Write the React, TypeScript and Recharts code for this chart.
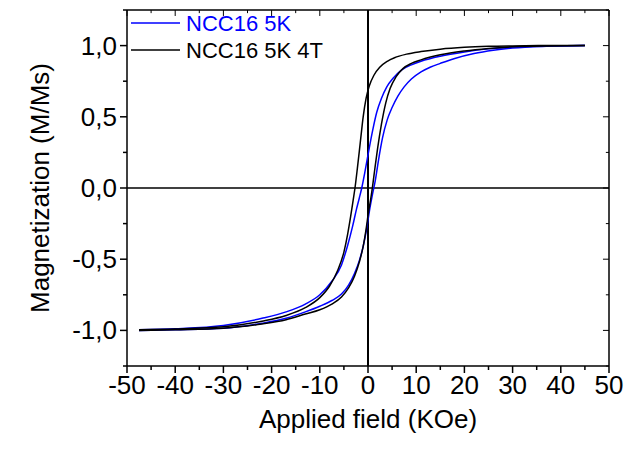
import { LineChart, Line, XAxis, YAxis, ReferenceLine, Legend } from "recharts"

const FONT = '"Liberation Sans", Arial, sans-serif'
const BLUE = "#0000ff"
const BLACK = "#000000"

const X_TICKS = [-50, -45, -40, -35, -30, -25, -20, -15, -10, -5, 0, 5, 10, 15, 20, 25, 30, 35, 40, 45, 50]
const Y_TICKS = [-1.25, -1, -0.75, -0.5, -0.25, 0, 0.25, 0.5, 0.75, 1, 1.25]

// NCC16 5K, field going down
const BLUE_DOWN_H = [-47.5, -40, -30, -22, -17, -13, -10, -7.5, -5.5, -4.2, -3.2, -2.4, -1.8, -1.3, -0.6, 0.2, 1.0, 1.8, 2.8, 3.9, 5.2, 7, 9, 11, 15, 20, 25, 30, 37, 45]
const BLUE_DOWN_M = [-0.995, -0.988, -0.965, -0.915, -0.87, -0.815, -0.75, -0.655, -0.54, -0.4, -0.27, -0.15, -0.07, 0.0, 0.12, 0.27, 0.41, 0.53, 0.63, 0.71, 0.77, 0.83, 0.865, 0.89, 0.925, 0.955, 0.977, 0.99, 0.998, 1.0]
// NCC16 5K, field going up
const BLUE_UP_H = [-47.5, -40, -30, -22, -17, -13, -10, -7.5, -5.5, -4, -2.8, -1.8, -1.0, -0.3, 0.3, 0.9, 1.5, 2.2, 3.0, 4.0, 5.0, 6.2, 7.5, 9, 11, 13, 15, 18, 22, 26, 30, 37, 45]
const BLUE_UP_M = [-1.0, -0.995, -0.985, -0.95, -0.915, -0.87, -0.83, -0.79, -0.745, -0.68, -0.6, -0.51, -0.41, -0.29, -0.16, -0.05, 0.05, 0.2, 0.35, 0.48, 0.565, 0.645, 0.71, 0.765, 0.815, 0.85, 0.875, 0.91, 0.945, 0.968, 0.983, 0.995, 1.0]

// NCC16 5K 4T, field going down
const BLACK_DOWN_H = [-47.5, -40, -30, -22, -17, -13, -10, -8, -6.3, -5, -4.2, -3.6, -3.1, -2.7, -2.2, -1.6, -1.0, -0.4, 0.3, 1.2, 2.5, 4, 5.5, 8, 11, 15, 20, 25, 30, 37, 45]
const BLACK_DOWN_M = [-0.995, -0.99, -0.975, -0.935, -0.895, -0.84, -0.77, -0.69, -0.58, -0.45, -0.32, -0.2, -0.09, 0.0, 0.14, 0.32, 0.5, 0.63, 0.72, 0.79, 0.85, 0.89, 0.915, 0.94, 0.958, 0.975, 0.988, 0.995, 0.998, 1.0, 1.0]
// NCC16 5K 4T, field going up
const BLACK_UP_H = [-47.5, -40, -30, -22, -17, -13, -10, -7.5, -5.5, -4, -2.8, -1.8, -1.0, -0.4, 0.1, 0.5, 0.9, 1.4, 2.0, 2.8, 3.7, 4.6, 5.8, 7.3, 9, 11, 15, 20, 25, 30, 37, 45]
const BLACK_UP_M = [-1.0, -0.995, -0.985, -0.955, -0.925, -0.885, -0.855, -0.815, -0.765, -0.7, -0.62, -0.52, -0.41, -0.29, -0.17, -0.09, 0.0, 0.13, 0.28, 0.45, 0.6, 0.7, 0.78, 0.84, 0.875, 0.9, 0.935, 0.962, 0.98, 0.992, 0.998, 1.0]

const X_MIN = -50
const X_MAX = 50
const Y_MIN = -1.25
const Y_MAX = 1.25

const toPoints = (h: number[], m: number[]) => h.map((v, i) => ({ h: v, m: m[i] }))

const isMajorX = (v: number) => v % 10 === 0
const isMajorY = (v: number) => Math.abs(v * 2 - Math.round(v * 2)) < 1e-9
const fmtY = (v: number) => v.toFixed(1).replace(".", ",")

function BottomTick({ x, y, payload }: any) {
  const major = isMajorX(payload.value)
  return (
    <g>
      <line x1={x} x2={x} y1={y} y2={y + (major ? 7 : 4)} stroke={BLACK} strokeWidth={1.5} />
      {major && (
        <text x={x} y={y + 28} textAnchor="middle" fontSize={26} fontFamily={FONT} fill={BLACK}>
          {payload.value}
        </text>
      )}
    </g>
  )
}

function LeftTick({ x, y, payload }: any) {
  const major = isMajorY(payload.value)
  return (
    <g>
      <line x1={x} x2={x - (major ? 7 : 4)} y1={y} y2={y} stroke={BLACK} strokeWidth={1.5} />
      {major && (
        <text x={x - 10} y={y + 9} textAnchor="end" fontSize={26} fontFamily={FONT} fill={BLACK}>
          {fmtY(payload.value)}
        </text>
      )}
    </g>
  )
}

function LegendBox() {
  return (
    <svg width={220} height={60}>
      <line x1={3} x2={52} y1={13} y2={13} stroke={BLUE} strokeWidth={1.5} />
      <text x={58} y={21} fontSize={22} fontFamily={FONT} fill={BLUE}>NCC16 5K</text>
      <line x1={3} x2={52} y1={40} y2={40} stroke={BLACK} strokeWidth={1.5} />
      <text x={58} y={48} fontSize={22} fontFamily={FONT} fill={BLACK}>NCC16 5K 4T</text>
    </svg>
  )
}

export default function App() {
  const axisLine = { stroke: BLACK, strokeWidth: 1.5 }
  return (
    <div style={{ position: "absolute", left: 0, top: 0, background: "#fff" }}>
      <LineChart width={627} height={455} margin={{ top: 10, right: 18, bottom: 0, left: 0 }}>
        <XAxis
          type="number"
          dataKey="h"
          domain={[X_MIN, X_MAX]}
          ticks={X_TICKS}
          interval={0}
          height={89}
          tickSize={0}
          tickMargin={0}
          tickLine={false}
          axisLine={axisLine}
          tick={BottomTick}
          label={{
            content: () => (
              <text x={368} y={428} textAnchor="middle" fontSize={26} fontFamily={FONT} fill={BLACK}>
                Applied field (KOe)
              </text>
            ),
          }}
        />
        <YAxis
          type="number"
          domain={[Y_MIN, Y_MAX]}
          ticks={Y_TICKS}
          interval={0}
          width={127}
          tickSize={0}
          tickMargin={0}
          tickLine={false}
          axisLine={axisLine}
          tick={LeftTick}
          label={{
            content: () => (
              <text
                x={49}
                y={188}
                transform="rotate(-90, 49, 188)"
                textAnchor="middle"
                fontSize={26}
                fontFamily={FONT}
                fill={BLACK}
              >
                Magnetization (M/Ms)
              </text>
            ),
          }}
        />
        {/* frame and inward ticks on the top and right edges */}
        <ReferenceLine y={Y_MAX} stroke={BLACK} strokeWidth={1.5} />
        <ReferenceLine x={X_MAX} stroke={BLACK} strokeWidth={1.5} />
        {X_TICKS.map((v) => (
          <ReferenceLine
            key={`tx${v}`}
            segment={[{ x: v, y: Y_MAX }, { x: v, y: Y_MAX - (isMajorX(v) ? 0.042 : 0.022) }]}
            stroke={BLACK}
            strokeWidth={1}
          />
        ))}
        {Y_TICKS.map((v) => (
          <ReferenceLine
            key={`ty${v}`}
            segment={[{ x: X_MAX, y: v }, { x: X_MAX - (isMajorY(v) ? 1.25 : 0.65), y: v }]}
            stroke={BLACK}
            strokeWidth={1}
          />
        ))}
        <ReferenceLine x={0} stroke={BLACK} strokeWidth={2} />
        <ReferenceLine y={0} stroke={BLACK} strokeWidth={1.5} />
        <Line data={toPoints(BLUE_DOWN_H, BLUE_DOWN_M)} dataKey="m" type="monotone" stroke={BLUE} strokeWidth={1.5} dot={false} isAnimationActive={false} />
        <Line data={toPoints(BLUE_UP_H, BLUE_UP_M)} dataKey="m" type="monotone" stroke={BLUE} strokeWidth={1.5} dot={false} isAnimationActive={false} />
        <Line data={toPoints(BLACK_UP_H, BLACK_UP_M)} dataKey="m" type="monotone" stroke={BLACK} strokeWidth={1.5} dot={false} isAnimationActive={false} />
        <Line data={toPoints(BLACK_DOWN_H, BLACK_DOWN_M)} dataKey="m" type="monotone" stroke={BLACK} strokeWidth={1.5} dot={false} isAnimationActive={false} />
        <Legend
          layout="vertical"
          align="center"
          verticalAlign="middle"
          wrapperStyle={{ left: 128, top: 10, width: 220, height: 60 }}
          content={() => <LegendBox />}
        />
      </LineChart>
    </div>
  )
}
